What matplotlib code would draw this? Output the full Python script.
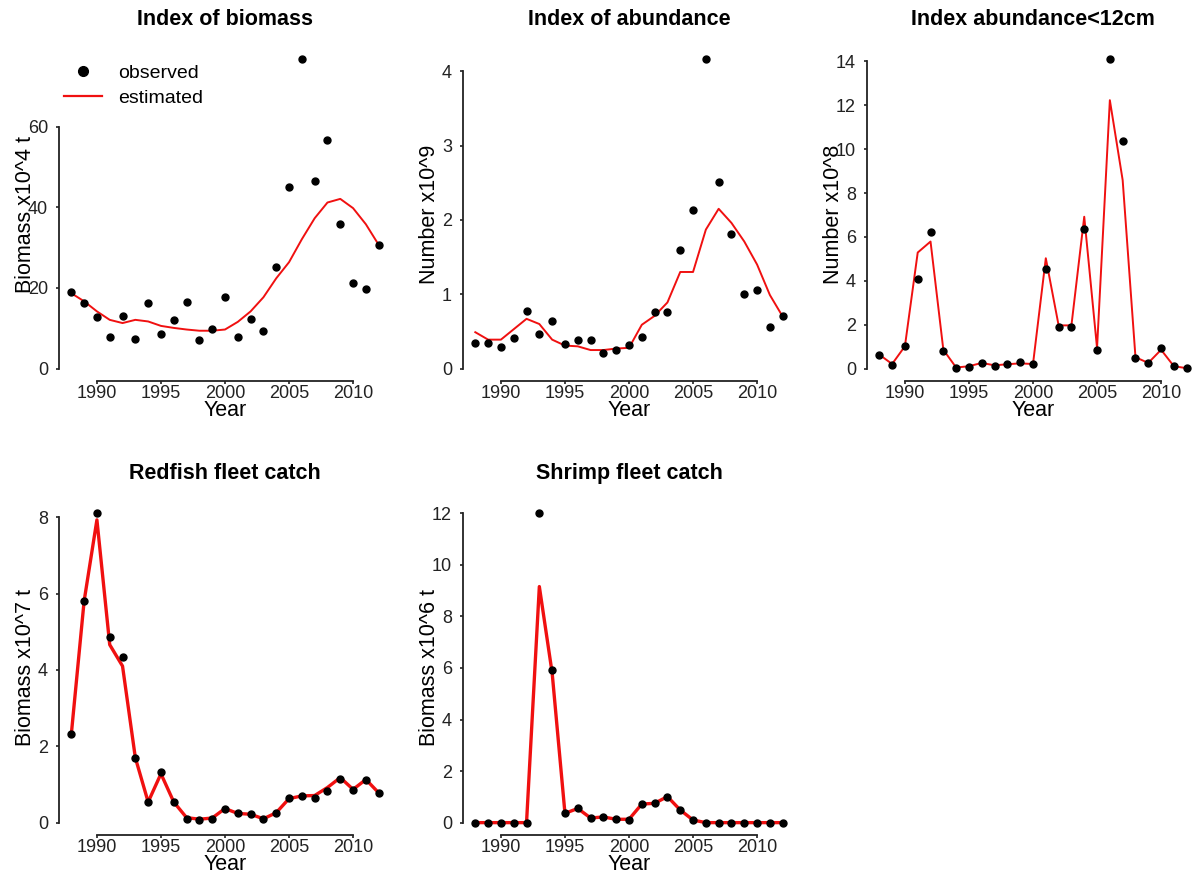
import matplotlib
matplotlib.use("Agg")
import matplotlib.pyplot as plt
from matplotlib.lines import Line2D

plt.rcParams['font.family'] = ['Liberation Sans', 'DejaVu Sans']

years = list(range(1988, 2013))

# survey index of biomass (x10^4 t)
biomass_obs = [18.9, 16.3, 12.7, 7.8, 13.1, 7.3, 16.3, 8.7, 12.0, 16.6, 7.1, 9.9, 17.8,
               7.8, 12.2, 9.4, 25.1, 45.1, 76.7, 46.5, 56.7, 35.8, 21.3, 19.7, 30.6]
biomass_est = [18.7, 16.7, 14.2, 12.1, 11.3, 12.1, 11.7, 10.6, 10.1, 9.7, 9.4, 9.4, 9.7,
               11.6, 14.2, 17.7, 22.4, 26.4, 32.1, 37.3, 41.2, 42.1, 39.8, 35.8, 30.7]

# survey index of abundance (x10^9)
abund_obs = [0.35, 0.35, 0.29, 0.41, 0.78, 0.47, 0.64, 0.33, 0.38, 0.38, 0.21, 0.25, 0.32,
             0.43, 0.76, 0.76, 1.59, 2.13, 4.16, 2.51, 1.81, 1.00, 1.06, 0.56, 0.71]
abund_est = [0.49, 0.39, 0.39, 0.53, 0.67, 0.60, 0.39, 0.31, 0.30, 0.25, 0.25, 0.27, 0.28,
             0.59, 0.71, 0.89, 1.30, 1.30, 1.87, 2.15, 1.96, 1.71, 1.40, 0.99, 0.70]

# abundance of fish < 12cm (x10^8)
small_obs = [0.64, 0.18, 1.02, 4.08, 6.23, 0.79, 0.02, 0.08, 0.27, 0.14, 0.20, 0.29, 0.20,
             4.53, 1.89, 1.89, 6.38, 0.85, 14.09, 10.39, 0.48, 0.27, 0.92, 0.14, 0.05]
small_est = [0.64, 0.21, 1.02, 5.29, 5.79, 0.86, 0.05, 0.11, 0.26, 0.15, 0.20, 0.24, 0.21,
             5.03, 1.97, 1.97, 6.92, 0.94, 12.23, 8.59, 0.52, 0.26, 0.86, 0.11, 0.02]

# redfish fleet catch (x10^7 t)
redfish_obs = [2.31, 5.80, 8.10, 4.85, 4.33, 1.70, 0.53, 1.32, 0.54, 0.10, 0.08, 0.10, 0.36,
               0.24, 0.22, 0.09, 0.24, 0.65, 0.71, 0.65, 0.83, 1.13, 0.85, 1.12, 0.77]
redfish_est = [2.31, 5.80, 7.93, 4.66, 4.10, 1.70, 0.54, 1.28, 0.54, 0.13, 0.09, 0.12, 0.37,
               0.24, 0.22, 0.10, 0.26, 0.63, 0.70, 0.71, 0.92, 1.18, 0.87, 1.13, 0.78]

# shrimp fleet catch (x10^6 t)
shrimp_obs = [0, 0, 0, 0, 0, 12.0, 5.91, 0.36, 0.55, 0.17, 0.22, 0.13, 0.12,
              0.74, 0.76, 1.01, 0.49, 0.09, 0, 0, 0, 0, 0, 0, 0]
shrimp_est = [0, 0, 0, 0, 0, 9.16, 5.81, 0.36, 0.55, 0.18, 0.22, 0.13, 0.13,
              0.72, 0.75, 1.01, 0.49, 0.10, 0, 0, 0, 0, 0, 0, 0]

panels = [
    ("Index of biomass", "Biomass x10^4 t", biomass_obs, biomass_est, [0, 20, 40, 60], 1.4),
    ("Index of abundance", "Number x10^9", abund_obs, abund_est, [0, 1, 2, 3, 4], 1.4),
    ("Index abundance<12cm", "Number x10^8", small_obs, small_est, list(range(0, 15, 2)), 1.4),
    ("Redfish fleet catch", "Biomass x10^7 t", redfish_obs, redfish_est, [0, 2, 4, 6, 8], 2.4),
    ("Shrimp fleet catch", "Biomass x10^6 t", shrimp_obs, shrimp_est, list(range(0, 13, 2)), 2.4),
]

W, H = 1196, 877
fig = plt.figure(figsize=(W / 100, H / 100), dpi=100)

lefts = [59, 463, 867]
bottoms = [381, 835]
pw, ph = 332, 334

axes = []
for i, (title, ylab, obs, est, yt, lw) in enumerate(panels):
    row, col = divmod(i, 3)
    ax = fig.add_axes([lefts[col] / W, (H - bottoms[row]) / H, pw / W, ph / H])
    axes.append(ax)
    ax.plot(years, est, color='#f01010', lw=lw, zorder=2)
    ax.plot(years, obs, 'o', color='black', ms=5, zorder=3, clip_on=False)
    top = max(max(obs), max(est))
    ax.set_ylim(-0.04 * top, 1.04 * top)
    ax.set_xlim(1988 - 0.04 * 24, 2012 + 0.04 * 24)
    ax.set_yticks(yt)
    ax.set_xticks([1990, 1995, 2000, 2005, 2010])
    for s in ['top', 'right']:
        ax.spines[s].set_visible(False)
    ax.spines['left'].set_bounds(yt[0], yt[-1])
    ax.spines['bottom'].set_bounds(1990, 2010)
    for s in ['left', 'bottom']:
        ax.spines[s].set_linewidth(1.3)
        ax.spines[s].set_color('#222222')
    ax.tick_params(axis='y', length=2.5, width=1.2, pad=5.5, labelsize=13, colors='#222222')
    ax.tick_params(axis='x', length=2.5, width=1.2, pad=0.5, labelsize=13, colors='#222222')
    ax.set_title(title, fontsize=15.5, fontweight='bold', pad=0, y=(ph + 22) / ph, va='baseline')
    ax.set_xlabel("Year", fontsize=15.5)
    ax.xaxis.set_label_coords(0.5, -35 / ph)
    ax.xaxis.label.set_verticalalignment('baseline')
    ax.set_ylabel(ylab, fontsize=15.5)
    ax.yaxis.set_label_coords(-28 / pw, 0.5)
    ax.yaxis.label.set_verticalalignment('baseline')
    ax.patch.set_alpha(0)

handles = [Line2D([], [], marker='o', ls='none', color='black', ms=7),
           Line2D([], [], color='#f01010', lw=1.6)]
fig.legend(handles, ['observed', 'estimated'], loc='upper left',
           bbox_to_anchor=(64 / W, (H - 64) / H), frameon=False, fontsize=14,
           handlelength=1.95, handletextpad=0.85, labelspacing=0.38,
           borderpad=0, borderaxespad=0)

fig.savefig('out.png', dpi=100)
